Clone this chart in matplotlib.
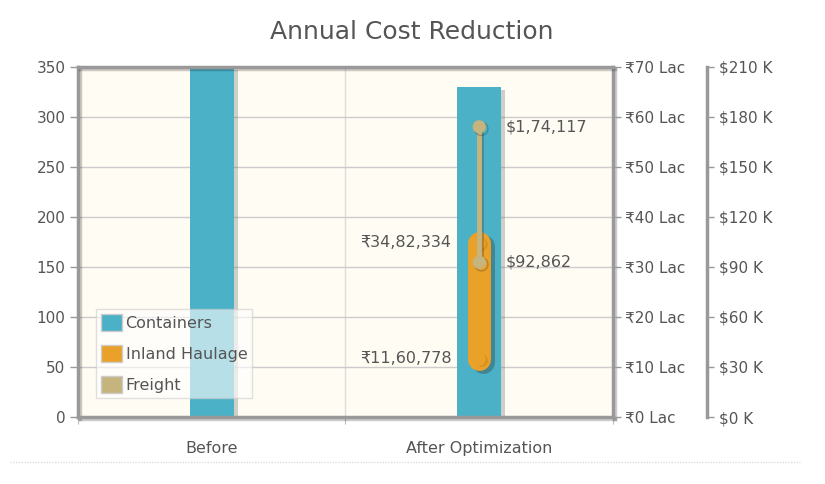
import matplotlib
matplotlib.use("Agg")
import matplotlib.pyplot as plt
import matplotlib.patheffects as pe
from matplotlib.patches import Patch

plt.rcParams['font.family'] = ['DejaVu Sans']

categories = ["Before", "After Optimization"]
containers = [350, 330]
inland_low = [11.60778]   # Lac (₹11,60,778)
inland_high = [34.82334]  # Lac (₹34,82,334)
inland_labels = ["₹11,60,778", "₹34,82,334"]
freight_low = [92.862]    # $ K
freight_high = [174.117]
freight_labels = ["$92,862", "$1,74,117"]
left_ticks = list(range(0, 351, 50))
inr_ticks = list(range(0, 71, 10))
usd_ticks = list(range(0, 211, 30))

c_cont = "#4bb1c7"
c_inland = "#e9a129"
c_freight = "#c6b47e"
txt = "#555555"
spine_c = "#999999"
fs = 11

fig = plt.figure(figsize=(8.25, 4.84), dpi=100)
ax = fig.add_axes([78/825, 1-417/484, 535/825, 350/484])
ax.set_facecolor("#fffcf4")
ax.set_xlim(-0.5, 1.5)
ax.set_ylim(0, 350)
ax.set_yticks(left_ticks)
ax.grid(axis='y', color="#cccccc", lw=1)
ax.axvline(0.5, color="#dddddd", lw=1, zorder=0)
ax.set_axisbelow(True)
for s in ax.spines.values():
    s.set_color(spine_c); s.set_linewidth(2.5)
    s.set_path_effects([pe.SimpleLineShadow(offset=(1.5, -1.5), alpha=0.2), pe.Normal()])
ax.tick_params(axis='y', colors=spine_c, labelcolor=txt, labelsize=fs, length=6, width=1, pad=3)
ax.set_xticks([-0.5, 0.5, 1.5])
ax.set_xticklabels([])
ax.tick_params(axis='x', which='major', colors="#bbbbbb", length=5, direction='out')
ax.set_xticks([0, 1], minor=True)
ax.set_xticklabels(categories, minor=True)
ax.tick_params(axis='x', which='minor', length=0, labelcolor=txt, labelsize=11.5, pad=17)

bars = ax.bar(range(len(categories)), containers, width=0.165, color=c_cont, zorder=2)
for b in bars:
    b.set_path_effects([pe.SimplePatchShadow(offset=(3, -2), shadow_rgbFace="#666666", alpha=0.3), pe.Normal()])

ax2 = ax.twinx()
ax2.set_ylim(0, 70)
ax2.set_yticks(inr_ticks)
ax2.set_yticklabels([f"₹{v} Lac" for v in inr_ticks])
ax2.patch.set_visible(False)
for s in ax2.spines.values():
    s.set_visible(False)
ax2.tick_params(axis='y', colors=spine_c, labelcolor=txt, labelsize=fs, length=6, width=1, pad=3)

ln, = ax2.plot([1, 1], [inland_low[0], inland_high[0]], color=c_inland, lw=16.5,
               solid_capstyle='round', zorder=3)
ln.set_path_effects([pe.SimpleLineShadow(offset=(2.5, -2.5), shadow_color="#333333", alpha=0.35), pe.Normal()])
ax2.plot([1.005, 1.005], [inland_low[0] - 0.3, inland_high[0] - 0.3], ls='none', marker='o', ms=9,
         mfc="#d8901c", mec="none", zorder=3.5)
ax2.plot([1, 1], [inland_low[0], inland_high[0]], ls='none', marker='o', ms=9,
         mfc=c_inland, mec="none", zorder=3.6)
ax2.annotate(inland_labels[0], (1, inland_low[0]), xytext=(-20, 0), textcoords='offset points',
             ha='right', va='center', color=txt, fontsize=11.5)
ax2.annotate(inland_labels[1], (1, inland_high[0]), xytext=(-20, 0), textcoords='offset points',
             ha='right', va='center', color=txt, fontsize=11.5)

ax3 = ax.twinx()
ax3.set_ylim(0, 210)
ax3.set_yticks(usd_ticks)
ax3.set_yticklabels([f"${v} K" for v in usd_ticks])
ax3.patch.set_visible(False)
for k, s in ax3.spines.items():
    s.set_visible(k == 'right')
ax3.spines['right'].set_position(('axes', (707-78)/535))
ax3.spines['right'].set_color(spine_c)
ax3.spines['right'].set_linewidth(2.5)
ax3.tick_params(axis='y', colors=spine_c, labelcolor=txt, labelsize=fs, length=5, width=1, pad=4)

fl, = ax3.plot([1, 1], [freight_low[0], freight_high[0]], color=c_freight, lw=3.5,
               marker='o', ms=9.5, mfc=c_freight, mec="none", zorder=4)
fl.set_path_effects([pe.SimpleLineShadow(offset=(1.5, -1.5), shadow_color="#333333", alpha=0.3), pe.Normal()])
ax3.annotate(freight_labels[0], (1, freight_low[0]), xytext=(19, 0), textcoords='offset points',
             ha='left', va='center', color=txt, fontsize=11.5)
ax3.annotate(freight_labels[1], (1, freight_high[0]), xytext=(19, 0), textcoords='offset points',
             ha='left', va='center', color=txt, fontsize=11.5)

handles = [Patch(facecolor=c_cont, edgecolor="#cccccc", lw=1),
           Patch(facecolor=c_inland, edgecolor="#cccccc", lw=1),
           Patch(facecolor=c_freight, edgecolor="#cccccc", lw=1)]
leg = ax3.legend(handles, ["Containers", "Inland Haulage", "Freight"],
                 loc='lower left', bbox_to_anchor=((96-78)/535, (417-398)/350),
                 frameon=True, fancybox=False, framealpha=0.6, fontsize=11.5, labelcolor=txt,
                 handlelength=1.3, handleheight=1.3, handletextpad=0.25,
                 borderpad=0.3, labelspacing=0.85, borderaxespad=0)
leg.get_frame().set_facecolor("white")
leg.get_frame().set_edgecolor("#cccccc")
leg.set_zorder(10)

fig.text(412/825, 1-32/484, "Annual Cost Reduction", ha='center', va='center',
         fontsize=18, color=txt)
fig.add_artist(plt.Line2D([10/825, 800/825], [1-462/484, 1-462/484], color="#e0e0e0",
                          lw=1, ls=(0, (1, 1))))

fig.savefig("out.png", dpi=100, facecolor="white")
